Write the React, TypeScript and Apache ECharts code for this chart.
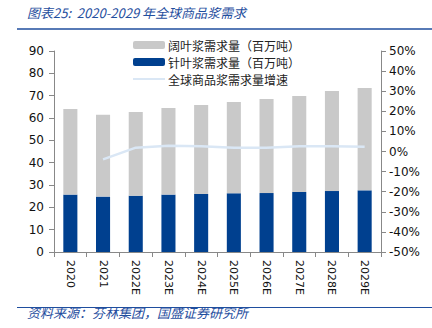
import React, { useEffect, useRef } from "react";
import * as echarts from "echarts";

const categories = ["2020", "2021", "2022E", "2023E", "2024E", "2025E", "2026E", "2027E", "2028E", "2029E"];
const softwood = [25.7, 24.8, 25.2, 25.7, 26.0, 26.3, 26.4, 26.9, 27.3, 27.6];
const totals = [64.0, 61.5, 62.7, 64.5, 65.8, 67.2, 68.5, 69.9, 72.1, 73.4];
const hardwood = totals.map((t, i) => +(t - softwood[i]).toFixed(1));
const growth = [null, -3.9, 1.9, 2.9, 2.6, 1.9, 1.9, 2.6, 2.6, 2.4];
const leftTicks = { min: 0, max: 90, interval: 10 };
const rightTicks = { min: -50, max: 50, interval: 10 };

const FONT = "DejaVu Sans";
const CJK = "Noto Sans CJK SC";

export default function App() {
  const ref = useRef<HTMLDivElement>(null);
  useEffect(() => {
    const chart = echarts.init(ref.current!, null, { renderer: "svg" });
    chart.setOption({
      animation: false,
      grid: { left: 54, right: 51, top: 51, bottom: 76 },
      legend: {
        left: 128,
        top: 34,
        orient: "vertical",
        itemWidth: 32,
        itemHeight: 8,
        itemGap: 5,
        textStyle: { fontFamily: CJK, fontSize: 12, lineHeight: 12, color: "#222", padding: [0, 0, 0, -2] },
        data: [
          { name: "阔叶浆需求量（百万吨）" },
          { name: "针叶浆需求量（百万吨）" },
          { name: "全球商品浆需求量增速", icon: "path://M0,0h32v2h-32z" },
        ],
      },
      xAxis: {
        type: "category",
        data: categories,
        axisLine: { lineStyle: { color: "#888" } },
        axisTick: { show: true, lineStyle: { color: "#888" } },
        axisLabel: { rotate: -90, fontFamily: FONT, fontSize: 11, color: "#111", margin: 8 },
      },
      yAxis: [
        {
          type: "value",
          ...leftTicks,
          axisLine: { show: true, lineStyle: { color: "#888" } },
          axisTick: { show: true, lineStyle: { color: "#888" } },
          splitLine: { show: false },
          axisLabel: { fontFamily: FONT, fontSize: 12, color: "#111", margin: 10 },
        },
        {
          type: "value",
          ...rightTicks,
          position: "right",
          axisLine: { show: true, lineStyle: { color: "#888" } },
          axisTick: { show: true, lineStyle: { color: "#888" } },
          splitLine: { show: false },
          axisLabel: { fontFamily: FONT, fontSize: 12, color: "#111", margin: 8, formatter: "{value}%" },
        },
      ],
      series: [
        {
          name: "针叶浆需求量（百万吨）",
          type: "bar",
          stack: "t",
          data: softwood,
          barWidth: "43%",
          itemStyle: { color: "#00408f" },
        },
        {
          name: "阔叶浆需求量（百万吨）",
          type: "bar",
          stack: "t",
          data: hardwood,
          itemStyle: { color: "#c9c9c9" },
        },
        {
          name: "全球商品浆需求量增速",
          type: "line",
          yAxisIndex: 1,
          data: growth,
          symbol: "none",
          lineStyle: { color: "#dae7f5", width: 2.5 },
          itemStyle: { color: "#dae7f5" },
        },
      ],
      graphic: [
        {
          type: "text",
          left: 27,
          top: 6,
          style: { text: "图表25:  2020-2029 年全球商品浆需求", fontFamily: CJK, fontStyle: "italic", fontSize: 13, fill: "#1f4e9e" },
        },
        { type: "line", shape: { x1: 17, y1: 29, x2: 432, y2: 29 }, style: { stroke: "#1f4e9e", lineWidth: 1.5 } },
        { type: "line", shape: { x1: 17, y1: 307.5, x2: 432, y2: 307.5 }, style: { stroke: "#1f4e9e", lineWidth: 1 } },
        {
          type: "text",
          left: 27,
          top: 306,
          style: { text: "资料来源：芬林集团，国盛证券研究所", fontFamily: CJK, fontStyle: "italic", fontSize: 13, fill: "#1f4e9e" },
        },
      ],
    });
    return () => chart.dispose();
  }, []);
  return <div ref={ref} style={{ position: "fixed", left: 0, top: 0, width: 432, height: 328, background: "#fff" }} />;
}
